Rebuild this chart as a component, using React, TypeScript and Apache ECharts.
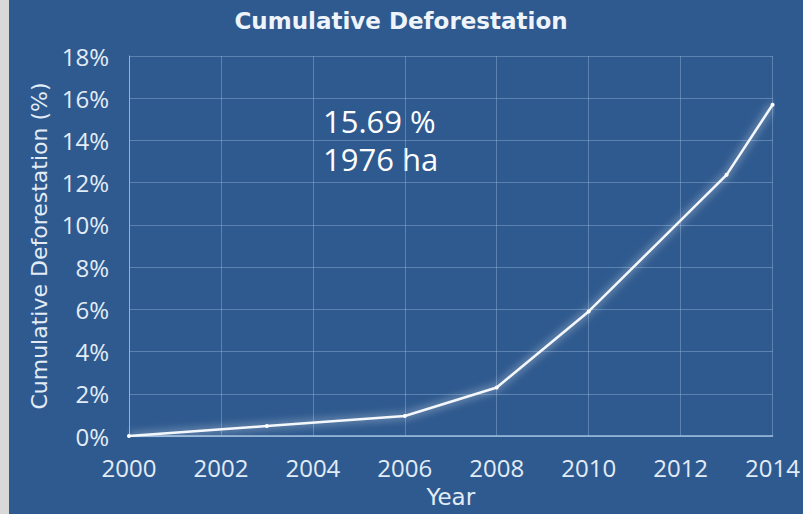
import React, { useEffect, useRef } from "react";
import * as echarts from "echarts";

const years = [2000, 2003, 2006, 2008, 2010, 2013, 2014];
const values = [0, 0.47, 0.95, 2.3, 5.9, 12.37, 15.69];
const annotationLines = ["15.69 %", "1976 ha"];
const titleText = "Cumulative Deforestation";
const yAxisName = "Cumulative Deforestation (%)";
const xAxisName = "Year";

export default function App() {
  const ref = useRef<HTMLDivElement>(null);
  useEffect(() => {
    document.body.style.margin = "0";
    const chart = echarts.init(ref.current!, null, { renderer: "svg" });
    const font = "'Open Sans', 'Noto Sans', sans-serif";
    const wideFont = "'DejaVu Sans', 'Open Sans', sans-serif";
    const textColor = "#e2ecf7";
    chart.setOption({
      animation: false,
      backgroundColor: "#2f5a8f",
      title: {
        text: titleText,
        left: 387,
        textAlign: "center",
        top: 4,
        textStyle: { color: "#eef4fa", fontSize: 23, fontWeight: "bold", fontFamily: wideFont },
      },
      grid: { left: 120, right: 25, top: 56, bottom: 78 },
      xAxis: {
        type: "value",
        min: 2000,
        max: 2014,
        interval: 2,
        name: xAxisName,
        nameLocation: "middle",
        nameGap: 49,
        nameTextStyle: { color: textColor, fontSize: 23, fontFamily: wideFont },
        axisLine: { show: true, lineStyle: { color: "#9fc0e0", width: 1.5 } },
        axisTick: { show: false },
        axisLabel: { color: textColor, fontSize: 24, fontFamily: font, margin: 19, formatter: (v: number) => String(v) },
        splitLine: { show: true, lineStyle: { color: "rgba(160,190,225,0.4)", width: 1 } },
      },
      yAxis: {
        type: "value",
        min: 0,
        max: 18,
        interval: 2,
        name: yAxisName,
        nameLocation: "middle",
        nameGap: 77,
        nameTextStyle: { color: textColor, fontSize: 22, fontFamily: wideFont },
        axisLine: { show: true, lineStyle: { color: "rgba(170,200,230,0.7)", width: 1 } },
        axisTick: { show: false },
        axisLabel: { color: textColor, fontSize: 24, fontFamily: font, margin: 20, formatter: "{value}%" },
        splitLine: { show: true, lineStyle: { color: "rgba(160,190,225,0.4)", width: 1 } },
      },
      series: [
        {
          type: "line",
          data: years.map((y, i) => [y, values[i]]),
          symbol: "circle",
          symbolSize: 4,
          itemStyle: { color: "#ffffff" },
          lineStyle: { color: "#f4f8fc", width: 2.5, shadowColor: "rgba(255,255,255,0.8)", shadowBlur: 8 },
        },
      ],
      graphic: [
        {
          type: "text",
          left: 314,
          top: 102,
          style: {
            text: annotationLines.join("\n"),
            fill: "#ffffff",
            fontSize: 31,
            lineHeight: 38,
            fontFamily: font,
          },
        },
      ],
    });
    return () => chart.dispose();
  }, []);
  return (
    <div style={{ position: "relative", width: 803, height: 514, background: "#d8d8d8" }}>
      <div ref={ref} style={{ position: "absolute", left: 9, top: 0, width: 794, height: 514 }} />
    </div>
  );
}
